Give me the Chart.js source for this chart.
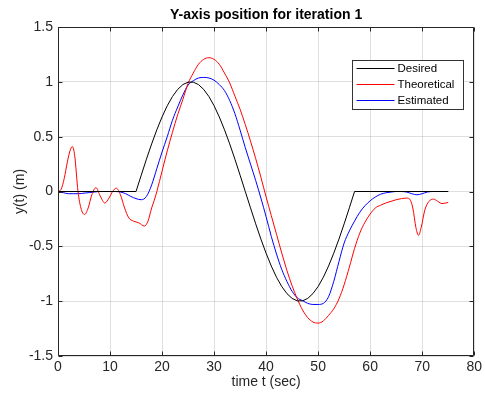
<!DOCTYPE html>
<html>
<head>
<meta charset="utf-8">
<title>Y-axis position</title>
<script src="https://cdn.jsdelivr.net/npm/chart.js@4.4.1/dist/chart.umd.min.js"></script>
<style>
  html, body { margin: 0; padding: 0; background: #fff; }
  canvas { display: block; }
</style>
</head>
<body>
<canvas id="posChart" width="485" height="400"></canvas>
<script>
// Desired trajectory: at rest, one full swing between t = 15 s and t = 57 s, then at rest again
const desiredTime = [0, 15, 16, 17, 18, 19, 20, 21, 22, 23, 24, 25, 26, 27, 28, 29, 30, 31, 32, 33, 34, 35,
  36, 37, 38, 39, 40, 41, 42, 43, 44, 45, 46, 47, 48, 49, 50, 51, 52, 53, 54, 55, 56, 57, 75];
const desiredPos = [0, 0, 0.149, 0.295, 0.434, 0.563, 0.680, 0.782, 0.866, 0.931, 0.975, 0.997, 0.997, 0.975,
  0.931, 0.866, 0.782, 0.680, 0.563, 0.434, 0.295, 0.149, 0, -0.149, -0.295, -0.434, -0.563, -0.680, -0.782,
  -0.866, -0.931, -0.975, -0.997, -0.997, -0.975, -0.931, -0.866, -0.782, -0.680, -0.563, -0.434, -0.295,
  -0.149, 0, 0];

// Theoretical response
const theoryTime = [0, 0.6, 1.2, 1.8, 2.3, 2.75, 3.2, 3.85, 4.4, 5.1, 5.8, 6.5, 7.3, 8.1, 9.0, 9.8, 10.5,
  11.2, 12.0, 12.8, 13.6, 14.5, 15.5, 16.6, 17.3, 18.0, 18.5, 19, 20, 21, 22, 23, 24, 25, 26, 27, 28, 29,
  30, 31, 32, 33, 34, 35, 36, 37, 38, 39, 40, 41, 42, 43, 44, 45, 46, 47, 48, 49, 50, 51, 52, 53, 54, 55,
  56, 57, 58, 59, 60, 61, 62, 63, 64, 65, 66, 67, 67.6, 68.2, 68.8, 69.3, 69.8, 70.5, 71.3, 72.2, 73, 73.8, 75];
const theoryPos = [0, 0.02, 0.12, 0.27, 0.37, 0.41, 0.33, 0.0, -0.15, -0.21, -0.15, -0.03, 0.035, -0.04,
  -0.105, -0.06, 0.0, 0.03, -0.03, -0.15, -0.24, -0.27, -0.285, -0.315, -0.27, -0.15, -0.08, 0.0, 0.185,
  0.37, 0.54, 0.70, 0.84, 0.985, 1.08, 1.16, 1.205, 1.22, 1.205, 1.16, 1.08, 0.99, 0.87, 0.75, 0.61, 0.46,
  0.30, 0.13, -0.05, -0.22, -0.39, -0.56, -0.72, -0.86, -0.98, -1.08, -1.15, -1.19, -1.20, -1.18, -1.13,
  -1.07, -0.98, -0.85, -0.69, -0.52, -0.38, -0.28, -0.205, -0.15, -0.125, -0.105, -0.09, -0.075, -0.065,
  -0.06, -0.07, -0.15, -0.33, -0.40, -0.33, -0.17, -0.09, -0.07, -0.09, -0.11, -0.10];

// Estimated response, sampled every second
const estTime = [0, 1, 2, 3, 4, 5, 6, 7, 8, 9, 10, 11, 12, 13, 14, 15, 16, 17, 18, 19, 20, 21, 22, 23, 24,
  25, 26, 27, 28, 29, 30, 31, 32, 33, 34, 35, 36, 37, 38, 39, 40, 41, 42, 43, 44, 45, 46, 47, 48, 49, 50,
  51, 52, 53, 54, 55, 56, 57, 58, 59, 60, 61, 62, 63, 64, 65, 66, 67, 68, 69, 70, 71, 72, 73, 74, 75];
const estPos = [0, -0.01, -0.02, -0.02, -0.02, -0.015, -0.01, -0.005, 0, 0, 0, 0, -0.005, -0.02, -0.045,
  -0.065, -0.075, -0.045, 0.06, 0.21, 0.36, 0.50, 0.65, 0.77, 0.88, 0.97, 1.01, 1.035, 1.04, 1.035, 1.015,
  0.975, 0.92, 0.83, 0.71, 0.56, 0.40, 0.25, 0.10, -0.06, -0.23, -0.41, -0.57, -0.71, -0.82, -0.91, -0.97,
  -0.995, -1.02, -1.03, -1.03, -1.02, -0.96, -0.82, -0.64, -0.47, -0.36, -0.27, -0.19, -0.13, -0.085, -0.05,
  -0.025, -0.012, -0.005, 0, 0, -0.005, -0.02, -0.03, -0.02, -0.005, 0, 0, 0, 0];

const seriesNames = ["Desired", "Theoretical", "Estimated"];
const seriesColors = ["#000000", "#ff0000", "#0000ff"];
const xTicks = [0, 10, 20, 30, 40, 50, 60, 70, 80];
const yTicks = [-1.5, -1, -0.5, 0, 0.5, 1, 1.5];

const FONT = "'Liberation Sans', Arial, Helvetica, sans-serif";
const INK = "#262626";
const GRID = "rgba(38,38,38,0.15)";

function toPoints(ts, ys) {
  return ts.map((t, i) => ({ x: t, y: ys[i] }));
}

// box round the plot area with short inward ticks on all four sides
const axesBox = {
  id: "axesBox",
  afterDatasetsDraw(chart) {
    const { ctx, chartArea: a, scales: { x, y } } = chart;
    const L = Math.round(a.left) + 0.5, R = Math.round(a.right) - 0.5;
    const T = Math.round(a.top) + 0.5, B = Math.round(a.bottom) - 0.5;
    ctx.save();
    ctx.strokeStyle = INK;
    ctx.lineWidth = 1;
    ctx.beginPath();
    xTicks.forEach(v => {
      const px = Math.round(x.getPixelForValue(v)) + 0.5;
      ctx.moveTo(px, B); ctx.lineTo(px, B - 4);
      ctx.moveTo(px, T); ctx.lineTo(px, T + 4);
    });
    yTicks.forEach(v => {
      const py = Math.round(y.getPixelForValue(v)) + 0.5;
      ctx.moveTo(L, py); ctx.lineTo(L + 4, py);
      ctx.moveTo(R, py); ctx.lineTo(R - 4, py);
    });
    ctx.rect(L, T, R - L, B - T);
    ctx.stroke();
    ctx.restore();
  }
};

// boxed legend in the upper right of the plot
const legendBox = {
  id: "legendBox",
  afterDraw(chart) {
    const { ctx, chartArea: a } = chart;
    const left = Math.round(a.right) - 121.5, top = Math.round(a.top) + 33.5;
    const w = 111, h = 49;
    ctx.save();
    ctx.fillStyle = "#ffffff";
    ctx.fillRect(left, top, w, h);
    ctx.strokeStyle = "#333333";
    ctx.lineWidth = 1;
    ctx.strokeRect(left, top, w, h);
    ctx.font = "11.5px " + FONT;
    ctx.textBaseline = "middle";
    ctx.fillStyle = "#000000";
    chart.data.datasets.forEach((ds, i) => {
      const ry = top + 8 + i * 16;
      ctx.strokeStyle = ds.borderColor;
      ctx.beginPath();
      ctx.moveTo(left + 4, ry);
      ctx.lineTo(left + 42, ry);
      ctx.stroke();
      ctx.fillText(ds.label, left + 45, ry + 0.5);
    });
    ctx.restore();
  }
};

new Chart(document.getElementById("posChart"), {
  type: "line",
  data: {
    datasets: [
      { label: seriesNames[0], data: toPoints(desiredTime, desiredPos), borderColor: seriesColors[0], borderWidth: 1, tension: 0 },
      { label: seriesNames[1], data: toPoints(theoryTime, theoryPos), borderColor: seriesColors[1], borderWidth: 1, cubicInterpolationMode: "monotone" },
      { label: seriesNames[2], data: toPoints(estTime, estPos), borderColor: seriesColors[2], borderWidth: 1, cubicInterpolationMode: "monotone" }
    ]
  },
  options: {
    responsive: false,
    animation: false,
    elements: { point: { radius: 0 } },
    layout: { padding: { right: 10 } },
    plugins: {
      legend: { display: false },
      tooltip: { enabled: false },
      title: {
        display: true,
        text: "Y-axis position for iteration 1",
        fullSize: false,
        color: "#000000",
        font: { family: FONT, size: 14, weight: "bold", lineHeight: 1.2 },
        padding: { top: 7, bottom: 3.2 }
      }
    },
    scales: {
      x: {
        type: "linear",
        min: 0,
        max: 80,
        afterBuildTicks: s => { s.ticks = xTicks.map(v => ({ value: v })); },
        afterFit: s => { s.height = 44; },
        grid: { color: GRID, drawTicks: false },
        border: { display: false },
        ticks: { color: INK, font: { family: FONT, size: 14 }, padding: 3, maxRotation: 0, callback: v => String(v) },
        title: { display: true, text: "time t (sec)", color: INK, font: { family: FONT, size: 14 }, padding: { bottom: 9 } }
      },
      y: {
        type: "linear",
        min: -1.5,
        max: 1.5,
        afterBuildTicks: s => { s.ticks = yTicks.map(v => ({ value: v })); },
        afterFit: s => { s.width = 58; },
        grid: { color: GRID, drawTicks: false },
        border: { display: false },
        ticks: { color: INK, font: { family: FONT, size: 14 }, padding: 5, callback: v => String(v) },
        title: { display: true, text: "y(t) (m)", color: INK, font: { family: FONT, size: 14 }, padding: { top: 12 } }
      }
    }
  },
  plugins: [axesBox, legendBox]
});
</script>
</body>
</html>
